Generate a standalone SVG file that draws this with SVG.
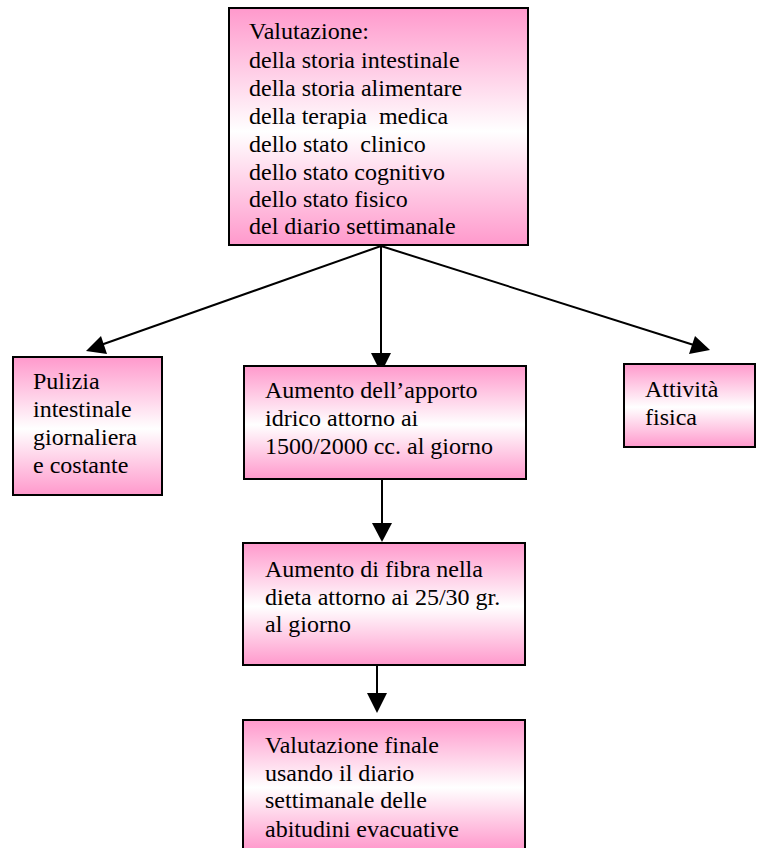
<svg xmlns="http://www.w3.org/2000/svg" width="757" height="848" viewBox="0 0 757 848">
<style>
.box{fill:url(#g);stroke:#000;stroke-width:2}
text{font-family:'Liberation Serif','Times New Roman',serif;font-size:24px;fill:#000}
</style>
<defs>
<linearGradient id="g" x1="0" y1="0" x2="0" y2="1">
<stop offset="0" stop-color="#ff99cc"/>
<stop offset="0.52" stop-color="#ffffff"/>
<stop offset="1" stop-color="#ff99cc"/>
</linearGradient>
</defs>
<rect width="757" height="848" fill="#fff"/>
<g id="connectors" stroke="#000" stroke-width="2">
<line x1="381" y1="246" x2="381" y2="356"/>
<path d="M371,353 L391,353 L381,373 z" stroke="none"/>
<line x1="381" y1="246" x2="98" y2="346"/>
<path d="M86,351 L101,336 L107,354 z" stroke="none"/>
<line x1="381" y1="246" x2="697" y2="346"/>
<path d="M710,350 L689,354 L695,336 z" stroke="none"/>
<line x1="382" y1="479" x2="382" y2="525"/>
<path d="M372,523 L392,523 L382,542 z" stroke="none"/>
<line x1="377" y1="666" x2="377" y2="695"/>
<path d="M367,693 L387,693 L377,713 z" stroke="none"/>
</g>
<g id="n-valutazione">
<rect class="box" x="229" y="8" width="299" height="237"/>
<text x="249" y="39">Valutazione:</text>
<text x="249" y="68">della storia intestinale</text>
<text x="249" y="96">della storia alimentare</text>
<text x="249" y="124" xml:space="preserve">della terapia  medica</text>
<text x="249" y="152" xml:space="preserve">dello stato  clinico</text>
<text x="249" y="180">dello stato cognitivo</text>
<text x="249" y="207">dello stato fisico</text>
<text x="249" y="234">del diario settimanale</text>
</g>
<g id="n-pulizia">
<rect class="box" x="13" y="357" width="149" height="138"/>
<text x="33" y="389">Pulizia</text>
<text x="33" y="417">intestinale</text>
<text x="33" y="445">giornaliera</text>
<text x="33" y="473">e costante</text>
</g>
<g id="n-apporto">
<rect class="box" x="244" y="366" width="282" height="113"/>
<text x="265" y="398">Aumento dell’apporto</text>
<text x="265" y="426">idrico attorno ai</text>
<text x="265" y="454">1500/2000 cc. al giorno</text>
</g>
<g id="n-attivita">
<rect class="box" x="624" y="364" width="131" height="83"/>
<text x="645" y="397">Attività</text>
<text x="645" y="425">fisica</text>
</g>
<g id="n-fibra">
<rect class="box" x="243" y="543" width="282" height="122"/>
<text x="265" y="577">Aumento di fibra nella</text>
<text x="265" y="605">dieta attorno ai 25/30 gr.</text>
<text x="265" y="632">al giorno</text>
</g>
<g id="n-finale">
<rect class="box" x="243" y="720" width="282" height="130"/>
<text x="265" y="753">Valutazione finale</text>
<text x="265" y="781">usando il diario</text>
<text x="265" y="808">settimanale delle</text>
<text x="265" y="837">abitudini evacuative</text>
</g>
</svg>
